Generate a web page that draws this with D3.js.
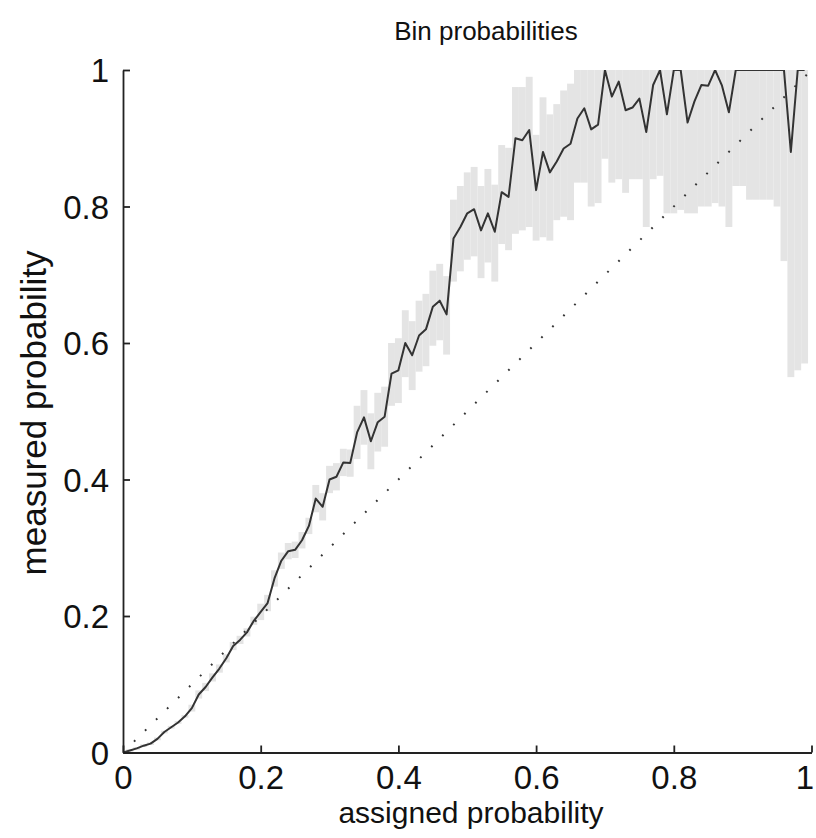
<!DOCTYPE html>
<html>
<head>
<meta charset="utf-8">
<script src="https://cdn.jsdelivr.net/npm/d3@7"></script>
<style>
  html, body { margin: 0; padding: 0; background: #fff; }
  svg { display: block; }
  text { font-family: "Liberation Sans", Arial, Helvetica, sans-serif; fill: #111; }
</style>
</head>
<body>
<div id="chart"></div>
<script>
// ---- data ----
const assigned = d3.range(100).map(i => i / 100);
const measured = [
  0.000, 0.003, 0.006, 0.010, 0.013, 0.020, 0.030, 0.037, 0.044, 0.053,
  0.065, 0.085, 0.096, 0.110, 0.123, 0.138, 0.156, 0.165, 0.176, 0.193,
  0.206, 0.219, 0.255, 0.281, 0.295, 0.297, 0.311, 0.332, 0.372, 0.360,
  0.400, 0.404, 0.425, 0.424, 0.469, 0.491, 0.456, 0.484, 0.492, 0.555,
  0.560, 0.600, 0.582, 0.611, 0.620, 0.653, 0.662, 0.642, 0.753, 0.770,
  0.790, 0.796, 0.765, 0.790, 0.763, 0.821, 0.814, 0.900, 0.897, 0.912,
  0.824, 0.880, 0.850, 0.866, 0.885, 0.892, 0.929, 0.944, 0.913, 0.920,
  1.000, 0.961, 0.983, 0.941, 0.945, 0.958, 0.909, 0.978, 1.000, 0.935,
  1.000, 1.000, 0.923, 0.954, 0.978, 0.977, 1.000, 0.977, 0.938, 1.000,
  1.000, 1.000, 1.000, 1.000, 1.000, 1.000, 1.000, 0.880, 1.000, 1.000
];
const lowerBound = [
  0.000, 0.001, 0.004, 0.008, 0.011, 0.018, 0.028, 0.035, 0.042, 0.051,
  0.060, 0.079, 0.090, 0.104, 0.117, 0.132, 0.150, 0.159, 0.170, 0.187,
  0.194, 0.207, 0.243, 0.269, 0.283, 0.285, 0.299, 0.320, 0.352, 0.340,
  0.380, 0.384, 0.405, 0.404, 0.430, 0.451, 0.415, 0.441, 0.448, 0.508,
  0.512, 0.550, 0.531, 0.558, 0.566, 0.596, 0.604, 0.583, 0.690, 0.705,
  0.722, 0.727, 0.695, 0.718, 0.690, 0.745, 0.736, 0.760, 0.765, 0.770,
  0.750, 0.755, 0.750, 0.780, 0.785, 0.780, 0.835, 0.835, 0.800, 0.805,
  0.870, 0.835, 0.840, 0.820, 0.840, 0.840, 0.770, 0.840, 0.845, 0.790,
  0.790, 0.795, 0.790, 0.790, 0.800, 0.800, 0.805, 0.800, 0.770, 0.830,
  0.830, 0.810, 0.810, 0.810, 0.810, 0.800, 0.720, 0.550, 0.560, 0.570
];
const upperBound = [
  0.002, 0.005, 0.008, 0.012, 0.015, 0.022, 0.032, 0.039, 0.046, 0.055,
  0.070, 0.091, 0.102, 0.116, 0.129, 0.144, 0.162, 0.171, 0.182, 0.199,
  0.218, 0.231, 0.267, 0.293, 0.307, 0.309, 0.323, 0.344, 0.392, 0.380,
  0.420, 0.424, 0.445, 0.444, 0.508, 0.531, 0.497, 0.527, 0.536, 0.600,
  0.607, 0.648, 0.632, 0.662, 0.672, 0.706, 0.716, 0.698, 0.810, 0.830,
  0.850, 0.858, 0.830, 0.855, 0.832, 0.890, 0.886, 0.975, 0.975, 0.990,
  0.905, 0.960, 0.935, 0.950, 0.970, 0.980, 1.000, 1.000, 1.000, 1.000,
  1.000, 1.000, 1.000, 1.000, 1.000, 1.000, 1.000, 1.000, 1.000, 1.000,
  1.000, 1.000, 1.000, 1.000, 1.000, 1.000, 1.000, 1.000, 1.000, 1.000,
  1.000, 1.000, 1.000, 1.000, 1.000, 1.000, 1.000, 1.000, 1.000, 1.000
];
const binWidth = 0.01;
const tickValues = [0, 0.2, 0.4, 0.6, 0.8, 1];
const tickLabels = ["0", "0.2", "0.4", "0.6", "0.8", "1"];
const diagonal = [0, 1];
const titleText = "Bin probabilities";
const xLabelText = "assigned probability";
const yLabelText = "measured probability";

// ---- layout ----
const W = 816, H = 838;
const margin = { left: 123, right: 4, top: 70, bottom: 86 };
const x = d3.scaleLinear().domain([0, 1]).range([margin.left, W - margin.right - 0.5]);
const y = d3.scaleLinear().domain([0, 1]).range([H - margin.bottom + 0.5, margin.top]);

const svg = d3.select("#chart").append("svg").attr("width", W).attr("height", H);

svg.append("clipPath").attr("id", "plotclip")
  .append("rect")
  .attr("x", x(0)).attr("y", y(1))
  .attr("width", x(1) - x(0)).attr("height", y(0) - y(1));

const plot = svg.append("g").attr("clip-path", "url(#plotclip)");

// confidence band bars
plot.append("g").selectAll("rect")
  .data(assigned.map((a, i) => ({ a, lo: lowerBound[i], hi: upperBound[i] })))
  .join("rect")
  .attr("x", d => x(d.a - binWidth / 2))
  .attr("width", d => x(d.a + binWidth / 2) - x(d.a - binWidth / 2))
  .attr("y", d => y(d.hi))
  .attr("height", d => Math.max(1, y(d.lo) - y(d.hi)))
  .attr("fill", "#e4e4e4");

// dotted diagonal
plot.append("path")
  .datum(diagonal)
  .attr("d", d3.line().x(d => x(d)).y(d => y(d)))
  .attr("fill", "none")
  .attr("stroke", "#333")
  .attr("stroke-width", 2)
  .attr("stroke-dasharray", "1.8 13.7");

// measured line
plot.append("path")
  .datum(assigned.map((a, i) => [a, measured[i]]))
  .attr("d", d3.line().x(d => x(d[0])).y(d => y(d[1])))
  .attr("fill", "none")
  .attr("stroke", "#333")
  .attr("stroke-width", 2)
  .attr("stroke-linejoin", "round");

// axes
const fmt = d => tickLabels[tickValues.indexOf(d)];
const xAxis = svg.append("g")
  .attr("transform", `translate(0,${y(0)})`)
  .call(d3.axisBottom(x).tickValues(tickValues).tickFormat(fmt).tickSizeInner(-7).tickSizeOuter(0).tickPadding(13));
const yAxis = svg.append("g")
  .attr("transform", `translate(${x(0)},0)`)
  .call(d3.axisLeft(y).tickValues(tickValues).tickFormat(fmt).tickSizeInner(-7).tickSizeOuter(0).tickPadding(14));

[xAxis, yAxis].forEach(g => {
  g.select(".domain").attr("stroke", "#222").attr("stroke-width", 1.8);
  g.selectAll(".tick line").attr("stroke", "#222").attr("stroke-width", 1.8);
  g.selectAll(".tick text")
    .style("font-family", '"Liberation Sans", Arial, sans-serif')
    .style("font-size", "33px").attr("fill", "#111");
});
xAxis.selectAll(".tick text").attr("dy", "0.70em");
xAxis.selectAll(".tick text").filter(d => d === 1).attr("text-anchor", "end").attr("dx", "2");
yAxis.selectAll(".tick text").attr("dy", "0.36em");

// title and labels
svg.append("text")
  .attr("x", 486).attr("y", 40)
  .attr("text-anchor", "middle")
  .style("font-size", "26px")
  .text(titleText);

svg.append("text")
  .attr("x", 471).attr("y", 823)
  .attr("text-anchor", "middle")
  .style("font-size", "30px")
  .text(xLabelText);

svg.append("text")
  .attr("transform", `translate(46,413) rotate(-90)`)
  .attr("text-anchor", "middle")
  .style("font-size", "35px")
  .text(yLabelText);
</script>
</body>
</html>
